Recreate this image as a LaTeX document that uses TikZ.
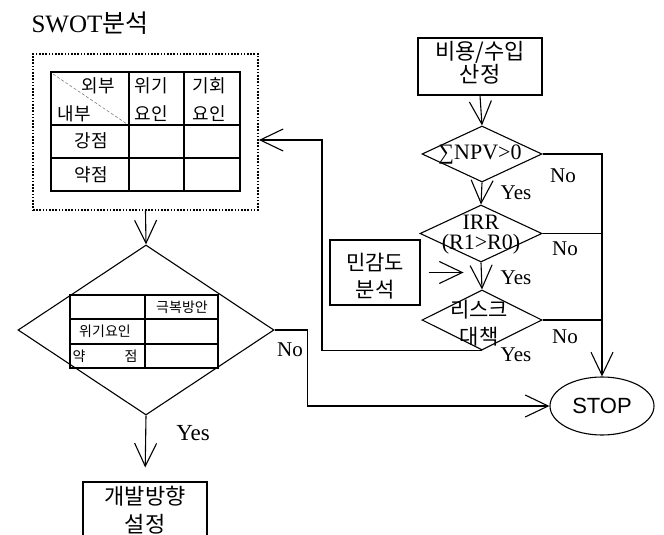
\documentclass[tikz,border=0pt]{standalone}
\usepackage{fontspec}
\setmainfont{Liberation Serif}
\newfontfamily\kr{Noto Sans CJK KR}
\newfontfamily\arialf{Liberation Sans}
\usetikzlibrary{shapes.geometric,arrows.meta}
\begin{document}
\begin{tikzpicture}[x=1pt,y=-1pt, line width=1.1pt,
  arr/.style={-{Straight Barb[length=23pt,width=22pt]}},
  box/.style={draw, rectangle, inner sep=0pt},
  dia/.style={draw, diamond, inner sep=0pt},
  kt/.style={font=\kr\fontsize{22}{30}\selectfont, align=center, inner sep=0pt},
  et/.style={font=\fontsize{21}{24}\selectfont, inner sep=0pt},
  tt/.style={font=\kr\fontsize{18}{20}\selectfont, inner sep=0pt},
  st/.style={font=\kr\fontsize{14}{16}\selectfont, inner sep=0pt}]
\useasboundingbox (0,0) rectangle (664,535);

% title
\node[anchor=west, font=\fontsize{25}{28}\selectfont, inner sep=0pt] (title) at (31,23) {SWOT{\kr 분석}};

% SWOT box
\node[draw, line width=1.8pt, dash pattern={on 1.6pt off 1.6pt}, minimum width=225pt, minimum height=156pt, inner sep=0pt] (swot) at (145.5,132) {};
\draw[line width=1.6pt] (51,72) rectangle (240,191);
\draw[line width=1.6pt] (129,72) -- (129,191) (184,72) -- (184,191) (51,125) -- (240,125) (51,158) -- (240,158);
\draw[gray, line width=0.6pt, densely dashed] (53,74) -- (127,124);
\node[tt] (oe) at (98,86) {외부};
\node[tt] (ne) at (74,114) {내부};
\node[tt] (w1) at (151,86) {위기};
\node[tt] (w2) at (151,114) {요인};
\node[tt] (o1) at (209,86) {기회};
\node[tt] (o2) at (209,114) {요인};
\node[tt] (st1) at (91,141) {강점};
\node[tt] (we1) at (91,175) {약점};

% big diamond
\node[dia, minimum width=256pt, minimum height=170pt] (d0) at (146,330) {};
\draw[line width=1.5pt] (70,295) rectangle (218,368);
\draw[line width=1.5pt] (145,295) -- (145,368) (70,319) -- (218,319) (70,344) -- (218,344);
\node[st] (gb) at (182,307) {극복방안};
\node[st] (wy) at (105,331) {위기요인};
\node[st] (ya) at (79,356) {약};
\node[st] (jm) at (131,356) {점};

\draw[arr] (swot.south) -- (d0.north);

\node[box, minimum width=124pt, minimum height=64pt] (dev) at (145,514) {};
\node[kt, font=\kr\fontsize{22}{28}\selectfont] (devt) at (145,510) {개발방향\\설정};
\draw[arr, shorten >=14pt] (d0.south) -- (dev.north);
\node[et, font=\fontsize{23}{26}\selectfont] (y0) at (193,433) {Yes};
\node[et] (n0) at (290,350) {No};

% STOP
\node[draw, ellipse, minimum width=104pt, minimum height=58pt, inner sep=0pt, font=\arialf\fontsize{22}{26}\selectfont] (stop) at (602,406) {STOP};
\draw[arr] (d0.east) -- ++(33,0) |- (stop.west);

% right column
\node[box, minimum width=124pt, minimum height=57pt] (cost) at (480,66.5) {};
\node[kt, font=\kr\fontsize{22}{21}\selectfont] (costt) at (480,63) {비용/수입\\산정};

\node[dia, minimum width=120pt, minimum height=56pt] (d1) at (482,154) {};
\node[et, font=\fontsize{22}{24}\selectfont] (d1t) at (480,155) {∑NPV>0};
\draw[arr] (cost.south) -- (d1.north);
\node[et] (y1) at (516,193) {Yes};
\node[et] (n1) at (563,176) {No};

\node[dia, minimum width=122pt, minimum height=57pt] (d2) at (481,233.5) {};
\node[et, align=center, font=\fontsize{22}{20}\selectfont] (d2t) at (481,235) {IRR\\(R1>R0)};
\draw[arr] (d1.south) -- (d2.north);
\node[et] (n2) at (565,249) {No};

\node[box, minimum width=90pt, minimum height=65pt] (sens) at (375,272.5) {};
\node[kt, font=\kr\fontsize{21}{27}\selectfont] (senst) at (375,276) {민감도\\분석};
\draw[arr, shorten <=8pt] (sens.east) -- ++(43,0);

\node[dia, minimum width=120pt, minimum height=60pt] (d3) at (482,320) {};
\node[kt, font=\kr\fontsize{21}{27}\selectfont] (d3t) at (479,323) {리스크\\대책};
\draw[arr] (d2.south) -- (d3.north);
\node[et] (y2) at (516,278) {Yes};
\node[et] (n3) at (565,337) {No};
\node[et] (y3) at (516,355) {Yes};

\draw[arr] (d1.east) -| (stop.north);
\draw (d2.east) -- (d2.east -| stop.north);
\draw (d3.east) -- (d3.east -| stop.north);

\coordinate (loopC) at (322,140);
\draw[arr] (d3.south) -| (loopC) -- (loopC -| swot.east);
\end{tikzpicture}
\end{document}
